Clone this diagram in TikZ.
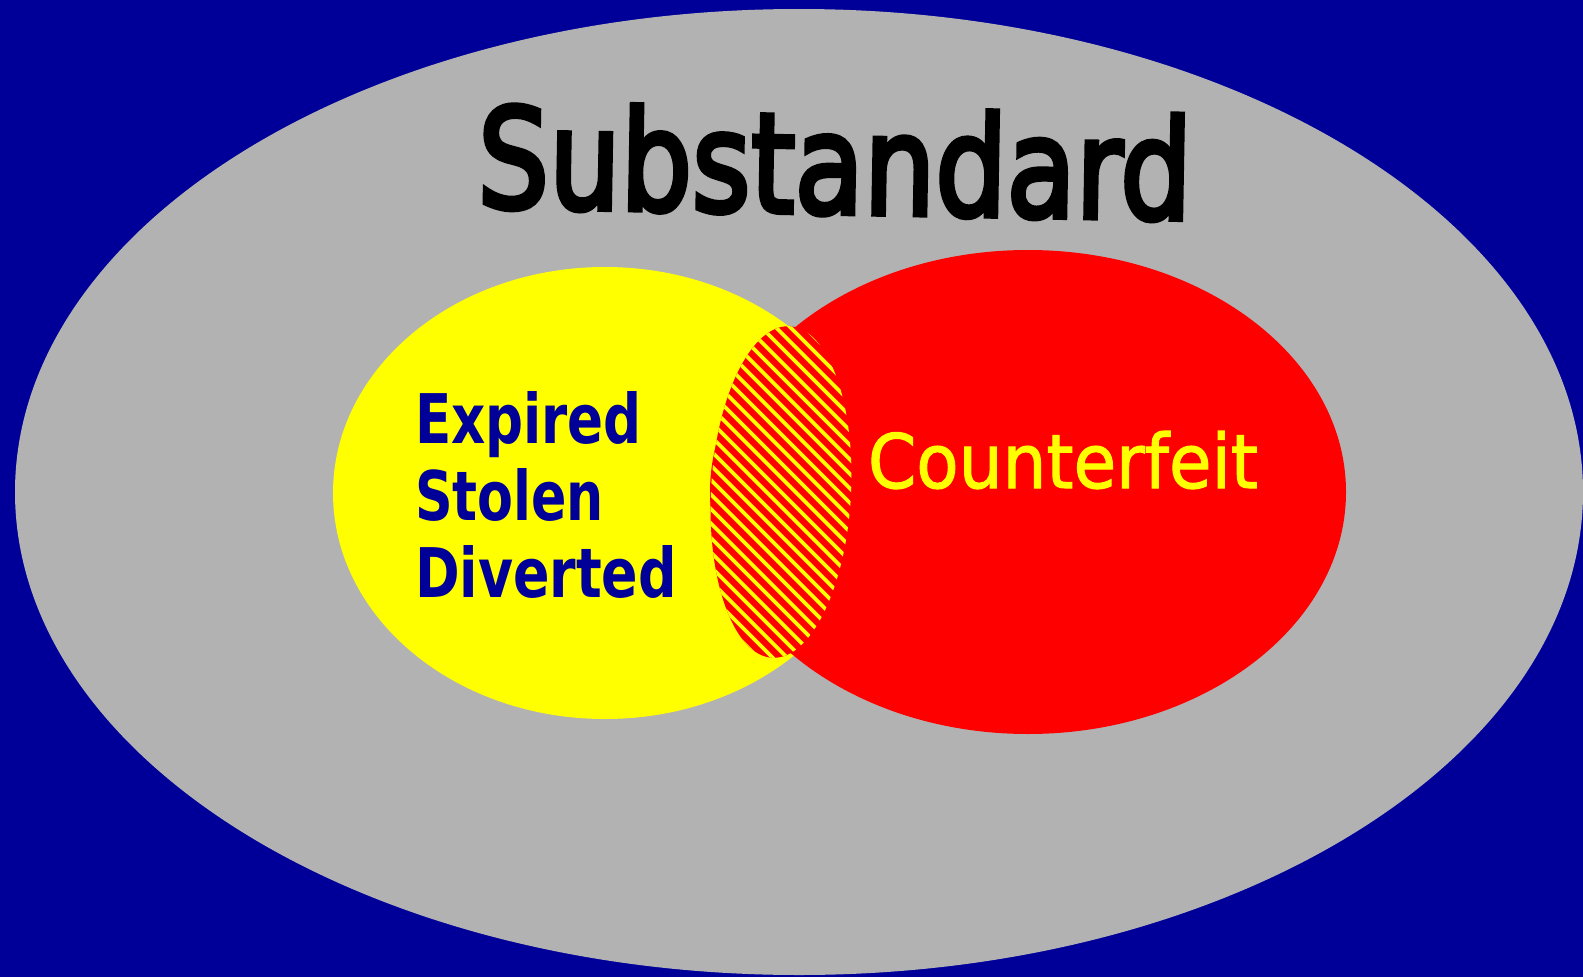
\documentclass[tikz,border=0pt]{standalone}
\usepackage{fontspec}
\setmainfont{DejaVu Sans}
\newfontfamily\subfont[FakeBold=4]{DejaVu Sans}
\newfontfamily\coufont[FakeBold=1.5]{DejaVu Sans}
\usepackage{graphicx}
\definecolor{bgblue}{HTML}{000099}
\definecolor{setgray}{HTML}{B2B2B2}
\definecolor{setyellow}{HTML}{FFFF00}
\definecolor{setred}{HTML}{FF0000}
\tikzset{
  lbl/.style={anchor=base west, inner sep=0pt, outer sep=0pt},
  bluelbl/.style={lbl, text=bgblue, font=\bfseries},
}
\begin{document}
\begin{tikzpicture}[x=0.02cm, y=-0.02cm]
  \useasboundingbox (0,0) rectangle (1583,977);
  \fill[bgblue] (0,0) rectangle (1583,977);
  % outer set
  \fill[setgray] (799,492) ellipse [x radius=784, y radius=483];
  % yellow set
  \fill[setyellow] (605,493) ellipse [x radius=272, y radius=226];
  % red set
  \fill[setred] (1028,492) ellipse [x radius=318, y radius=242];
  % hatched overlap
  \begin{scope}
    \clip[rotate around={-3:(781,492)}] (781,492) ellipse [x radius=70, y radius=166];
    \fill[setred] (700,300) rectangle (870,680);
    \foreach \k in {-40,...,40}{
      \draw[setyellow, line width=0.075cm] (781+\k*14.5-220,492-220) -- ++(440,440);
    }
  \end{scope}
  % labels
  \node[lbl, rotate=-1] (sub) at (477,207) {\resizebox{14.28cm}{2.1cm}{\subfont Substandard}};
  \node[bluelbl] (exp) at (415,443) {\resizebox{4.54cm}{1.04cm}{\bfseries Expired}};
  \node[bluelbl] (sto) at (415,520) {\resizebox{3.78cm}{1.04cm}{\bfseries Stolen}};
  \node[bluelbl] (div) at (415,597) {\resizebox{5.24cm}{1.04cm}{\bfseries Diverted}};
  \node[lbl, text=setyellow] (cou) at (868,488) {\resizebox{7.8cm}{1.14cm}{\coufont Counterfeit}};
\end{tikzpicture}
\end{document}
